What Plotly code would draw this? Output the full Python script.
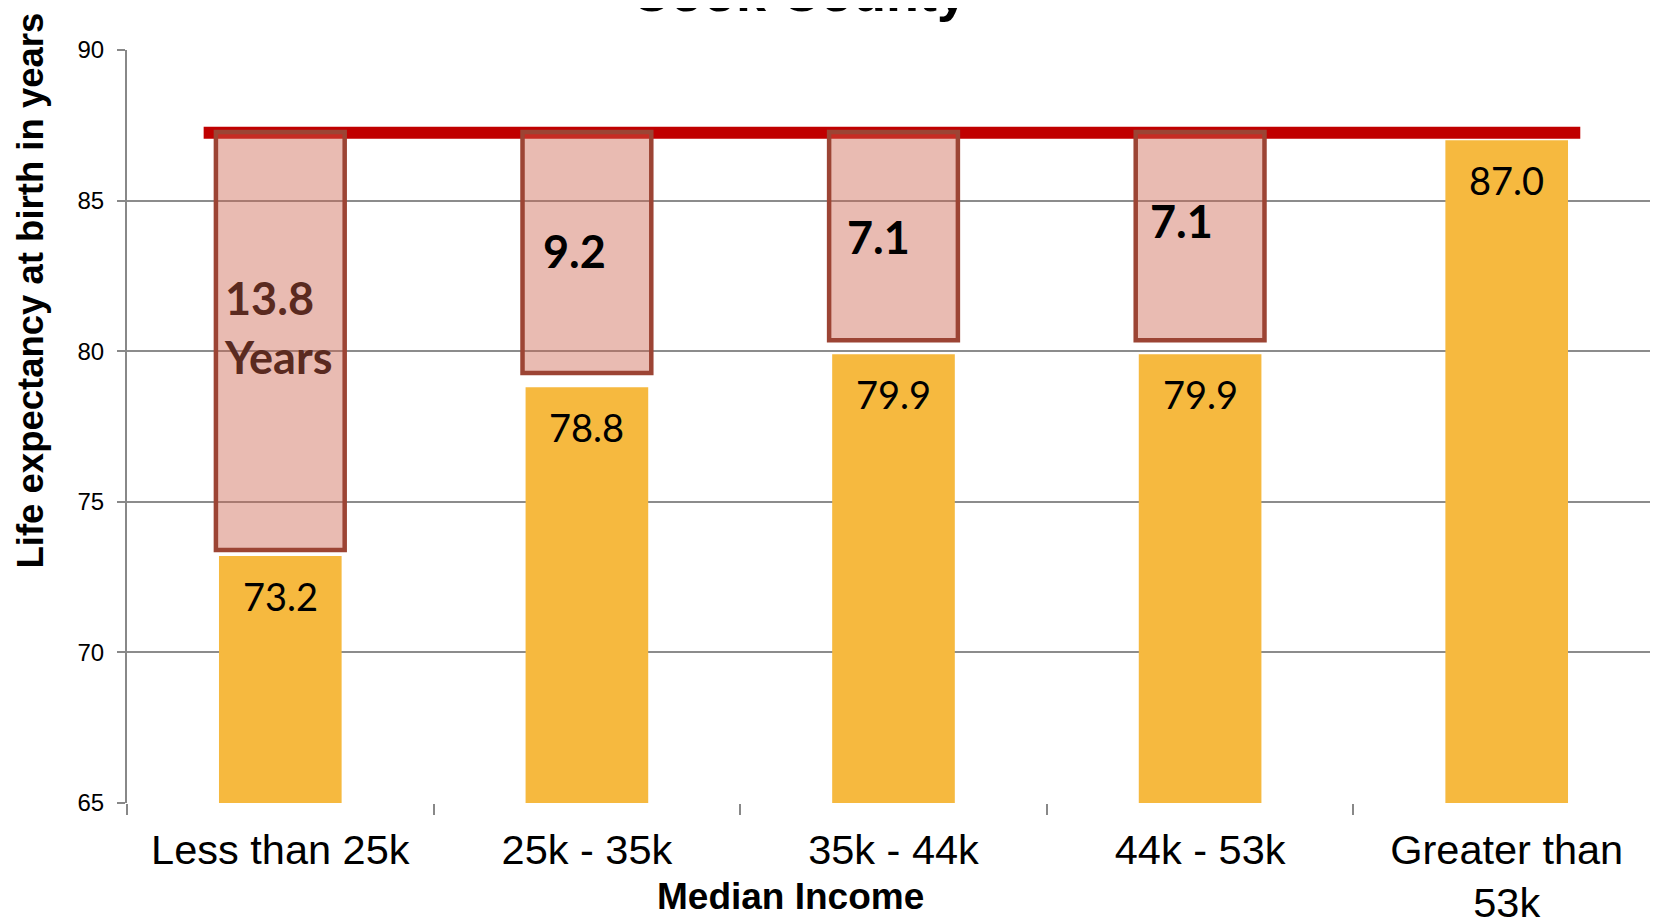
import plotly.graph_objects as go

# ---- data ----
categories = ["Less than 25k", "25k - 35k", "35k - 44k", "44k - 53k", "Greater than<br>53k"]
life_expectancy = [73.2, 78.8, 79.9, 79.9, 87.0]
value_labels = ["73.2", "78.8", "79.9", "79.9", "87.0"]

gap_categories = ["Less than 25k", "25k - 35k", "35k - 44k", "44k - 53k"]
gap_bottom = [73.4, 79.28, 80.36, 80.36]
gap_top = [87.28, 87.28, 87.28, 87.28]
gap_labels = ["13.8<br>Years", "9.2", "7.1", "7.1"]

reference_level = 87.25
y_ticks = [65, 70, 75, 80, 85, 90]

# ---- layout constants ----
W, H = 1658, 921
OFF = 8  # page body offset in the screenshot
ML, MR, MT, MB = 119, 6, 42, 126
plot_h = H - MT - MB
plot_w = W - ML - MR


def px_to_paper(sx, sy):
    """screenshot pixel -> paper coordinates"""
    return (sx - OFF - ML) / plot_w, (H - MB - (sy - OFF)) / plot_h


fig = go.Figure()

# yellow bars
fig.add_trace(go.Bar(
    x=categories, y=life_expectancy, width=0.4,
    marker=dict(color="#F6B93F", line=dict(width=0)),
    hoverinfo="skip", showlegend=False,
))

# gap boxes
fig.add_trace(go.Bar(
    x=gap_categories,
    y=[t - b for t, b in zip(gap_top, gap_bottom)],
    base=gap_bottom,
    width=0.42, offset=-0.21,
    marker=dict(color="rgba(205,100,80,0.44)", line=dict(color="#9C4434", width=4.5)),
    hoverinfo="skip", showlegend=False,
))

annotations = []
# values inside the yellow bars
for i, (v, lab) in enumerate(zip(life_expectancy, value_labels)):
    annotations.append(dict(
        x=i, y=v, xref="x", yref="y", text=lab, showarrow=False,
        yanchor="middle", yshift=-40,
        font=dict(family="Lato", size=38, color="#000000"),
    ))

# gap labels
gap_label_pos = [(-0.19, 80.8, "left", "#5A2A20"), (-0.04, 83.33, "center", "#000000"),
                 (-0.05, 83.79, "center", "#000000"), (-0.06, 84.32, "center", "#000000")]
for k, (cat, lab) in enumerate(zip(gap_categories, gap_labels)):
    dx, yy, anchor, col = gap_label_pos[k]
    i = categories.index(cat)
    annotations.append(dict(
        x=i + dx, y=yy, xref="x", yref="y", text="<b>%s</b>" % lab, showarrow=False,
        xanchor=anchor, yanchor="middle", align="left",
        font=dict(family="Lato", size=45, color=col),
    ))

# title (cut off at top)
tx, ty = px_to_paper(799, -8)
annotations.append(dict(
    x=tx, y=ty, xref="paper", yref="paper",
    text="<b>Cook County</b>", showarrow=False, xanchor="center", yanchor="middle",
    font=dict(family="Liberation Sans", size=54, color="#000000"),
))
# y-axis title
yx, yy_ = px_to_paper(29.5, 291)
annotations.append(dict(
    x=yx, y=yy_, xref="paper", yref="paper",
    text="<b>Life expectancy at birth in years</b>", showarrow=False, textangle=-90,
    xanchor="center", yanchor="middle",
    font=dict(family="Liberation Sans", size=36.5, color="#000000"),
))
# x-axis title
xx, xy = px_to_paper(790, 897)
annotations.append(dict(
    x=xx, y=xy, xref="paper", yref="paper",
    text="<b>Median Income</b>", showarrow=False, xanchor="center", yanchor="middle",
    font=dict(family="Liberation Sans", size=37, color="#000000"),
))

fig.update_layout(
    width=W, height=H,
    margin=dict(l=ML, r=MR, t=MT, b=MB, autoexpand=False),
    paper_bgcolor="white", plot_bgcolor="white",
    barmode="overlay", bargap=0.6,
    annotations=annotations,
    shapes=[dict(
        type="line", xref="x", yref="y", x0=-0.25, x1=4.24,
        y0=reference_level, y1=reference_level,
        line=dict(color="#C00000", width=12), layer="below",
    )],
    xaxis=dict(
        type="category", categoryorder="array", categoryarray=categories,
        range=[-0.5, 4.5], tickson="boundaries", ticks="outside", ticklen=11,
        tickcolor="#888888", tickwidth=1.5, showgrid=False, showline=False,
        zeroline=False, ticklabelstandoff=18, automargin=False,
        tickfont=dict(family="Liberation Sans", size=41.5, color="#000000"),
    ),
    yaxis=dict(
        range=[65, 90], tickvals=y_ticks, ticks="outside", ticklen=8,
        tickcolor="#888888", tickwidth=1.5, showgrid=True, gridcolor="#8c8c8c",
        gridwidth=1.5, showline=True, linecolor="#888888", linewidth=2,
        zeroline=False, ticklabelstandoff=8, automargin=False,
        tickfont=dict(family="Liberation Sans", size=24, color="#000000"),
    ),
)

fig.write_html("out.html")
